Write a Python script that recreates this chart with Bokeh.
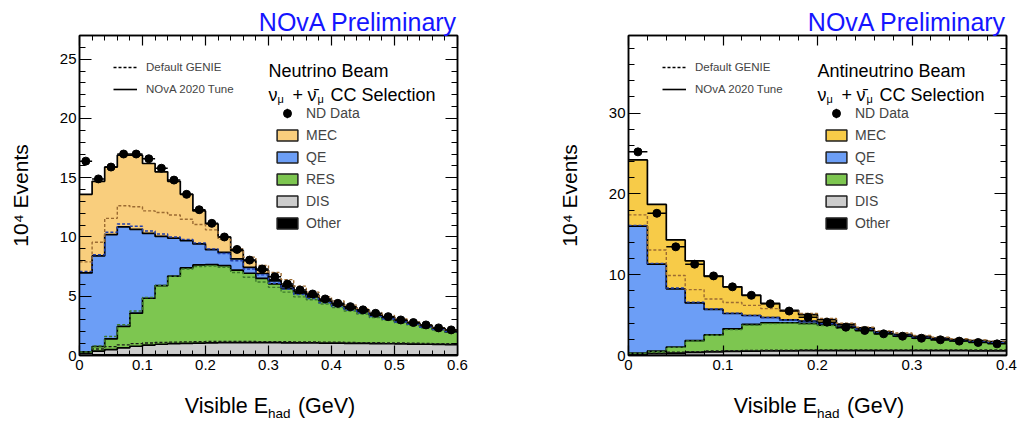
import numpy as np
from bokeh.plotting import figure
from bokeh.models import Range1d, FixedTicker, LinearAxis, Label, Legend, LegendItem
from bokeh.layouts import row
from bokeh.embed import file_html
from bokeh.resources import INLINE

FONT = "Liberation Sans"

# ---------------- data : neutrino beam (units of 10^4 events) ----------------
nu_edges = [0.00, 0.02, 0.04, 0.06, 0.08, 0.10, 0.12, 0.14, 0.16, 0.18, 0.20,
            0.22, 0.24, 0.26, 0.28, 0.30, 0.32, 0.34, 0.36, 0.38, 0.40,
            0.42, 0.44, 0.46, 0.48, 0.50, 0.52, 0.54, 0.56, 0.58, 0.60]
nu_data = [16.4, 14.9, 15.9, 17.0, 17.0, 16.6, 15.8, 14.8, 13.6, 12.3, 11.15, 10.0, 8.95, 8.05, 7.3,
           6.65, 6.03, 5.53, 5.19, 4.77, 4.4, 4.12, 3.85, 3.56, 3.28, 3.0, 2.78, 2.58, 2.33, 2.16]
# NOvA 2020 tune
nu_other = [0.10, 0.12, 0.14, 0.15, 0.15, 0.15, 0.15, 0.15, 0.15, 0.15, 0.15, 0.15, 0.15, 0.15, 0.15,
            0.15, 0.14, 0.14, 0.14, 0.14, 0.14, 0.13, 0.13, 0.13, 0.13, 0.12, 0.12, 0.12, 0.12, 0.12]
nu_dis = [0.08, 0.25, 0.36, 0.50, 0.63, 0.73, 0.80, 0.85, 0.88, 0.90, 0.92, 0.93, 0.93, 0.93, 0.93,
          0.93, 0.93, 0.93, 0.92, 0.91, 0.90, 0.90, 0.89, 0.87, 0.86, 0.86, 0.84, 0.83, 0.82, 0.80]
nu_res = [0.12, 0.39, 0.90, 1.80, 2.79, 3.95, 4.95, 5.69, 6.36, 6.59, 6.60, 6.50, 6.12, 5.86, 5.42,
          4.97, 4.58, 4.18, 3.89, 3.55, 3.21, 2.92, 2.68, 2.40, 2.16, 1.87, 1.69, 1.45, 1.26, 1.08]
nu_qe = [6.67, 7.64, 8.80, 8.40, 7.08, 5.47, 4.15, 3.21, 2.31, 1.77, 1.26, 1.12, 0.95, 0.50, 0.42,
         0.25, 0.15, 0.10, 0.10, 0.08, 0.07, 0.07, 0.07, 0.07, 0.07, 0.07, 0.07, 0.07, 0.07, 0.07]
nu_mec = [6.63, 6.30, 5.70, 6.05, 6.25, 5.90, 5.45, 4.80, 3.90, 2.79, 2.17, 1.30, 0.70, 0.56, 0.28,
          0.10, 0.10, 0.05, 0.05, 0.02, 0.03, 0.03, 0.03, 0.03, 0.03, 0.03, 0.03, 0.03, 0.03, 0.03]
# Default GENIE
nu_dis_def = [0.15, 0.43, 0.61, 0.75, 0.85, 0.90, 0.95, 0.98, 1.00, 1.02, 1.03, 1.03, 1.03, 1.03, 1.02,
              1.02, 1.02, 1.01, 1.00, 0.99, 0.98, 0.97, 0.96, 0.94, 0.93, 0.93, 0.91, 0.90, 0.88, 0.87]
nu_res_def = [0.05, 0.25, 0.85, 1.70, 2.75, 3.85, 4.80, 5.57, 6.15, 6.33, 6.37, 6.27, 5.82, 5.42, 5.03,
              4.58, 4.19, 3.80, 3.56, 3.22, 2.93, 2.65, 2.41, 2.13, 1.94, 1.70, 1.52, 1.28, 1.10, 0.96]
nu_qe_def = [6.80, 7.70, 8.80, 8.50, 7.15, 5.60, 4.35, 3.30, 2.50, 2.00, 1.45, 1.15, 1.00, 0.70, 0.60,
             0.35, 0.25, 0.20, 0.10, 0.10, 0.08, 0.08, 0.08, 0.08, 0.08, 0.08, 0.08, 0.08, 0.08, 0.08]
nu_mec_def = [0.80, 1.05, 1.17, 1.54, 1.65, 1.70, 1.82, 1.85, 1.70, 1.55, 1.60, 1.20, 1.00, 1.00, 0.80,
              0.90, 0.80, 0.70, 0.55, 0.50, 0.47, 0.42, 0.37, 0.35, 0.30, 0.25, 0.20, 0.20, 0.17, 0.12]

# ---------------- data : antineutrino beam ----------------
anu_edges = [0.00, 0.02, 0.04, 0.06, 0.08, 0.10, 0.12, 0.14, 0.16, 0.18, 0.20,
             0.22, 0.24, 0.26, 0.28, 0.30, 0.32, 0.34, 0.36, 0.38, 0.40]
anu_data = [25.2, 17.6, 13.45, 11.3, 9.85, 8.5, 7.45, 6.4, 5.5, 4.74,
            4.13, 3.5, 3.1, 2.68, 2.39, 2.14, 1.94, 1.78, 1.61, 1.44]
anu_other = [0.10, 0.12, 0.14, 0.15, 0.15, 0.15, 0.15, 0.15, 0.15, 0.15,
             0.15, 0.15, 0.15, 0.15, 0.15, 0.15, 0.15, 0.15, 0.15, 0.15]
anu_dis = [0.05, 0.10, 0.16, 0.23, 0.30, 0.35, 0.40, 0.42, 0.43, 0.45,
           0.45, 0.45, 0.45, 0.45, 0.45, 0.45, 0.45, 0.45, 0.43, 0.43]
anu_res = [0.15, 0.33, 0.75, 1.47, 2.10, 2.80, 3.30, 3.48, 3.47, 3.38,
           3.15, 2.83, 2.50, 2.08, 1.79, 1.54, 1.34, 1.18, 1.07, 0.95]
anu_qe = [15.70, 10.75, 7.20, 4.65, 3.15, 1.90, 1.10, 0.65, 0.35, 0.27,
          0.20, 0.20, 0.16, 0.14, 0.11, 0.10, 0.09, 0.08, 0.07, 0.07]
anu_mec = [8.20, 7.40, 6.05, 5.20, 4.10, 3.30, 2.50, 1.75, 1.20, 0.80,
           0.50, 0.25, 0.15, 0.12, 0.12, 0.12, 0.12, 0.12, 0.12, 0.12]
anu_dis_def = [0.10, 0.18, 0.26, 0.33, 0.40, 0.45, 0.48, 0.50, 0.52, 0.53,
               0.55, 0.55, 0.55, 0.55, 0.55, 0.55, 0.55, 0.55, 0.53, 0.53]
anu_res_def = [0.08, 0.20, 0.60, 1.32, 1.95, 2.60, 3.12, 3.30, 3.33, 3.22,
               3.00, 2.68, 2.35, 1.95, 1.65, 1.40, 1.20, 1.05, 0.94, 0.82]
anu_qe_def = [15.82, 10.90, 7.35, 4.80, 3.25, 2.05, 1.20, 0.75, 0.40, 0.35,
              0.25, 0.22, 0.20, 0.15, 0.13, 0.12, 0.10, 0.09, 0.08, 0.08]
anu_mec_def = [1.30, 1.65, 1.55, 1.55, 1.25, 1.30, 1.25, 1.10, 1.10, 0.95,
               0.65, 0.40, 0.25, 0.25, 0.30, 0.26, 0.26, 0.24, 0.22, 0.20]

# tick labels
nu_xticks = [0, 0.1, 0.2, 0.3, 0.4, 0.5, 0.6]
nu_yticks = [0, 5, 10, 15, 20, 25]
anu_xticks = [0, 0.1, 0.2, 0.3, 0.4]
anu_yticks = [0, 10, 20, 30]

COLORS = {"Other": "#000000", "DIS": "#cccccc", "RES": "#7dc650", "QE": "#6c9ef6"}
DASH_COLORS = {"DIS": "#1a1a1a", "RES": "#3d7a2c", "QE": "#203fae", "MEC": "#9c6b32"}

W, H = 514, 423
FT, FB = 35, 68          # frame top / bottom borders
FW, FH = 378, 320        # frame size
NB = "\u00a0"


def ext(v):
    v = list(v)
    return v + [v[-1]]


def legend(items, loc, gw, gh, lh, spacing, standoff, size):
    return Legend(items=items, location=loc, glyph_width=gw, glyph_height=gh, label_height=lh,
                  spacing=spacing, padding=0, margin=0, label_standoff=standoff,
                  label_text_font=FONT, label_text_font_size=size,
                  border_line_color=None, background_fill_alpha=0, inactive_fill_alpha=0)


def make_panel(edges, data, tune, default, mec_color, xmax, ymax, xticks, yticks,
               xminor_step, yminor_step, beam, fl):
    fr = W - fl - FW
    p = figure(width=W, height=H, x_range=Range1d(0, xmax), y_range=Range1d(0, ymax),
               output_backend="svg", toolbar_location=None,
               min_border_left=fl, min_border_right=fr, min_border_top=FT, min_border_bottom=FB)
    p.grid.visible = False
    p.outline_line_color = "black"
    p.outline_line_width = 1.5
    p.background_fill_color = "white"
    p.border_fill_color = "white"

    def px(x):
        return (x - fl) / FW * xmax

    def py(y):
        return (H - FB - y) / FH * ymax

    nx = int(round(xmax / xminor_step))
    xminor = [round(i * xminor_step, 4) for i in range(nx + 1)]
    ny = int(ymax // yminor_step)
    yminor = [i * yminor_step for i in range(ny + 1)]

    # axes (ROOT style: ticks inside on all four sides)
    p.xaxis.ticker = FixedTicker(ticks=xticks, minor_ticks=xminor)
    p.yaxis.ticker = FixedTicker(ticks=yticks, minor_ticks=yminor)
    p.xaxis.major_label_overrides = {0: "0"}
    top = LinearAxis(ticker=FixedTicker(ticks=xticks, minor_ticks=xminor),
                     major_label_overrides={t: "" for t in xticks})
    right = LinearAxis(ticker=FixedTicker(ticks=yticks, minor_ticks=yminor),
                       major_label_overrides={t: "" for t in yticks})
    p.add_layout(top, "above")
    p.add_layout(right, "right")
    for ax in p.xaxis + p.yaxis:
        ax.axis_line_color = "black"
        ax.axis_line_width = 1.5
        ax.major_tick_line_color = "black"
        ax.minor_tick_line_color = "black"
        ax.major_tick_line_width = 1.2
        ax.minor_tick_line_width = 1.0
        ax.major_tick_out = 0
        ax.minor_tick_out = 0
        ax.major_label_text_font = FONT
        ax.major_label_text_font_size = "15px"
        ax.major_label_text_color = "black"
    for ax in p.xaxis:
        ax.major_tick_in = 10
        ax.minor_tick_in = 5
        ax.major_label_standoff = 4
    for ax in p.yaxis:
        ax.major_tick_in = 12
        ax.minor_tick_in = 6
        ax.major_label_standoff = 3
    top.major_label_standoff = 0
    right.major_label_standoff = 0
    top.major_label_text_font_size = "1px"
    right.major_label_text_font_size = "1px"
    ya = p.yaxis[0]
    ya.axis_label = "10\u2074 Events"
    ya.axis_label_text_font = FONT
    ya.axis_label_text_font_size = "21px"
    ya.axis_label_text_font_style = "normal"
    ya.axis_label_text_color = "black"
    ya.axis_label_standoff = 25

    # stacked fills (NOvA 2020 tune)
    names = ["Other", "DIS", "RES", "QE", "MEC"]
    fills = dict(COLORS, MEC=mec_color)
    lo = np.zeros(len(data))
    tops = {}
    for name, vals in zip(names, tune):
        hi = lo + np.array(vals)
        p.varea_step(x=edges, y1=ext(lo), y2=ext(hi), step_mode="after",
                     fill_color=fills[name])
        tops[name] = hi
        lo = hi
    # default GENIE stack (dashed outlines)
    lo = np.array(tune[0])
    dtops = {}
    for name, vals in zip(names[1:], default):
        hi = lo + np.array(vals)
        dtops[name] = hi
        lo = hi
    for name in ["DIS", "RES", "QE", "MEC"]:
        p.step(x=edges, y=ext(tops[name]), mode="after", line_color="black", line_width=1.7)
    for name in ["DIS", "RES", "QE", "MEC"]:
        p.step(x=edges, y=ext(dtops[name]), mode="after", line_color=DASH_COLORS[name],
               line_width=1.4, line_dash="3 2")

    # data points
    centers = [(edges[i] + edges[i + 1]) / 2 for i in range(len(data))]
    p.segment(x0=edges[:-1], x1=edges[1:], y0=data, y1=data, line_color="black", line_width=1.5)
    r_data = p.scatter(x=centers, y=data, size=8, color="black")

    # legend proxies (hidden renderers, only used for legend glyphs)
    r_dash = p.line(x=[0, 0], y=[0, 0], line_color="black", line_dash="3 2", line_width=1.3,
                    visible=False)
    r_solid = p.line(x=[0, 0], y=[0, 0], line_color="black", line_width=1.6, visible=False)
    p.add_layout(legend([LegendItem(label="Default GENIE", renderers=[r_dash]),
                         LegendItem(label="NOvA 2020 Tune", renderers=[r_solid])],
                        (34, 259), 24, 14, 14, 8, 9, "11.5px"))

    # ND Data: vertical error bar + dot
    r_bar = p.quad(left=[0], right=[0], bottom=[0], top=[0], fill_color="black",
                   line_color=None, visible=False)
    p.add_layout(legend([LegendItem(label=NB, renderers=[r_bar])],
                        (207, 236), 2, 12, 12, 0, 0, "1px"))
    p.add_layout(legend([LegendItem(label="ND Data", renderers=[r_data])],
                        (198, 232), 20, 20, 20, 0, 9, "14px"))

    boxes = {}
    for name in ["MEC", "QE", "RES", "DIS", "Other"]:
        boxes[name] = p.quad(left=[0], right=[0], bottom=[0], top=[0], fill_color=fills[name],
                             line_color="#222222", line_width=1.5, visible=False)
    items = [LegendItem(label=n, renderers=[boxes[n]]) for n in ["MEC", "QE", "RES", "DIS", "Other"]]
    p.add_layout(legend(items, (195, 124), 26, 14, 14, 6, 6, "14px"))

    def lab(text, x, y, size, align="left", color="black", place=None):
        l = Label(x=px(x), y=py(y), text=text, text_font=FONT, text_font_size=size,
                  text_align=align, text_baseline="alphabetic", text_color=color)
        if place is None:
            p.add_layout(l)
        else:
            p.add_layout(l, place)

    # header texts inside the frame
    lab(beam, fl + 189, 70, "18px")
    lab("\u03bd", fl + 189, 94, "18px")
    lab("\u03bc", fl + 198, 98, "11px")
    lab("+", fl + 213, 94, "18px")
    lab("\u03bd\u0304", fl + 228, 94, "18px")
    lab("\u03bc", fl + 238, 98, "11px")
    lab("CC Selection", fl + 251, 94, "18px")
    # title above the frame
    lab("NOvA Preliminary", fl + FW, 21, "25px", align="right", color="#1515ff", place="above")
    # x axis title below the frame
    xc = fl + FW / 2
    lab("Visible E" + NB * 5 + "(GeV)", xc + 1.5, 405, "21.5px", align="center", place="below")
    lab("had", xc - 0.5, 413, "13.5px", place="below")
    return p


p1 = make_panel(nu_edges, nu_data, [nu_other, nu_dis, nu_res, nu_qe, nu_mec],
                [nu_dis_def, nu_res_def, nu_qe_def, nu_mec_def], "#f9ce7d",
                0.6, 27, nu_xticks, nu_yticks, 0.02, 1, "Neutrino Beam", 79)
p2 = make_panel(anu_edges, anu_data, [anu_other, anu_dis, anu_res, anu_qe, anu_mec],
                [anu_dis_def, anu_res_def, anu_qe_def, anu_mec_def], "#f7cb48",
                0.4, 39.6, anu_xticks, anu_yticks, 0.02, 2, "Antineutrino Beam", 114)

layout = row(p1, p2)
open("out.html", "w").write(file_html(layout, INLINE))
